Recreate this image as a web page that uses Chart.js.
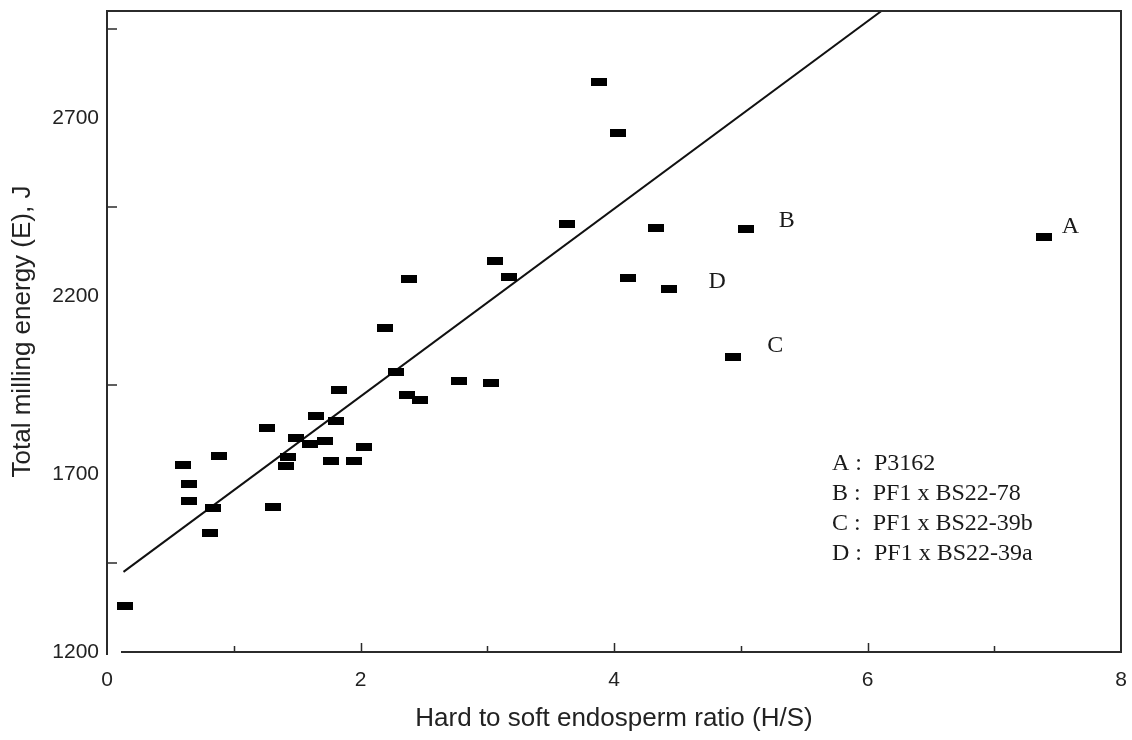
<!DOCTYPE html>
<html>
<head>
<meta charset="utf-8">
<script src="https://cdn.jsdelivr.net/npm/chart.js@4.4.1/dist/chart.umd.min.js"></script>
<style>
  html, body { margin: 0; padding: 0; background: #fff; }
  #wrap { width: 1132px; height: 740px; }
</style>
</head>
<body>
<div id="wrap"><canvas id="chart" width="1132" height="740"></canvas></div>
<script>
// values (H/S ratio vs total milling energy)
const hsRatio = [0.14, 0.60, 0.65, 0.65, 0.88, 0.84, 0.81, 1.26, 1.31, 1.43, 1.41, 1.49, 1.60, 1.65, 1.72, 1.77, 1.81, 1.83, 1.95, 2.03,
  2.19, 2.28, 2.37, 2.47, 2.38, 2.78, 3.03, 3.06, 3.17, 3.63, 3.88, 4.03, 4.11, 4.33, 4.43, 5.04, 4.94, 7.39];
const millingEnergy = [1329, 1725, 1672, 1624, 1751, 1604, 1534, 1829, 1607, 1748, 1722, 1801, 1784, 1863, 1793, 1737, 1849, 1936, 1737, 1776,
  2110, 1987, 1922, 1908, 2248, 1961, 1956, 2298, 2253, 2402, 2801, 2658, 2251, 2391, 2220, 2388, 2029, 2366];

// regression line end points
const fitX = [0.13, 6.11];
const fitY = [1425, 3000];

// named genotypes and the point each one marks
const pointNames = ['A', 'B', 'C', 'D'];
const pointIndex = [37, 35, 36, 34];
const noteLines = ['A :  P3162', 'B :  PF1 x BS22-78', 'C :  PF1 x BS22-39b', 'D :  PF1 x BS22-39a'];

const xTickValues = [0, 1, 2, 3, 4, 5, 6, 7, 8];
const xTickLabels = ['0', '', '2', '', '4', '', '6', '', '8'];
const yTickValues = [1200, 1450, 1700, 1950, 2200, 2450, 2700, 2950];
const yTickLabels = ['1200', '', '1700', '', '2200', '', '2700', ''];

const sans = "'Liberation Sans', Arial, sans-serif";
const serif = "'Liberation Serif', 'Times New Roman', serif";

// small filled bar used as the marker
const marker = document.createElement('canvas');
marker.width = 16;
marker.height = 8;
const mctx = marker.getContext('2d');
mctx.fillStyle = '#000';
mctx.fillRect(0, 0, 16, 8);

const labelOffsets = { A: [18, -4], B: [33, -2], C: [34, -5], D: [40, -1] };

function noScalePadding(s) {
  s.paddingTop = 0;
  s.paddingBottom = 0;
  s.paddingLeft = 0;
  s.paddingRight = 0;
}

const framePlugin = {
  id: 'frame',
  afterDatasetsDraw(chart) {
    const { ctx, chartArea: a, scales } = chart;
    const x = scales.x, y = scales.y;
    ctx.save();
    ctx.strokeStyle = '#2b2b2b';
    ctx.lineWidth = 2;
    ctx.beginPath();
    ctx.moveTo(a.left, a.bottom + 3);
    ctx.lineTo(a.left, a.top);
    ctx.lineTo(a.right, a.top);
    ctx.lineTo(a.right, a.bottom);
    ctx.lineTo(a.left + 14, a.bottom);
    ctx.stroke();

    // inward tick marks
    ctx.lineWidth = 1.5;
    ctx.beginPath();
    y.ticks.forEach((t, i) => {
      if (yTickLabels[i] !== '') return;
      const py = Math.round(y.getPixelForValue(t.value));
      ctx.moveTo(a.left, py);
      ctx.lineTo(a.left + 10, py);
    });
    x.ticks.forEach((t, i) => {
      if (t.value <= x.min || t.value >= x.max) return;
      const px = Math.round(x.getPixelForValue(t.value)) + 0.5;
      const len = xTickLabels[i] === '' ? 6 : 9;
      ctx.moveTo(px, a.bottom);
      ctx.lineTo(px, a.bottom - len);
    });
    ctx.stroke();

    // letters next to the named points
    ctx.fillStyle = '#1a1a1a';
    ctx.font = '24px ' + serif;
    ctx.textBaseline = 'alphabetic';
    ctx.textAlign = 'left';
    const meta = chart.getDatasetMeta(0);
    pointNames.forEach((name, k) => {
      const el = meta.data[pointIndex[k]];
      const off = labelOffsets[name];
      ctx.fillText(name, el.x + off[0], el.y + off[1]);
    });

    // key
    const nx = x.getPixelForValue(5.72);
    const ny = y.getPixelForValue(1712);
    noteLines.forEach((line, k) => {
      ctx.fillText(line, nx, ny + k * 30);
    });
    ctx.restore();
  }
};

new Chart(document.getElementById('chart'), {
  type: 'scatter',
  data: {
    datasets: [
      {
        label: 'Total milling energy',
        data: hsRatio.map((v, i) => ({ x: v, y: millingEnergy[i] })),
        pointStyle: marker,
        pointRadius: 8,
        pointHoverRadius: 8
      },
      {
        label: 'Fit',
        data: fitX.map((v, i) => ({ x: v, y: fitY[i] })),
        showLine: true,
        borderColor: '#111',
        borderWidth: 2,
        pointRadius: 0,
        fill: false
      }
    ]
  },
  options: {
    responsive: false,
    animation: false,
    layout: { autoPadding: false, padding: { top: 11, right: 11, left: 0, bottom: 0 } },
    plugins: {
      legend: { display: false },
      tooltip: { enabled: false }
    },
    scales: {
      x: {
        type: 'linear',
        min: 0,
        max: 8,
        afterFit(s) { s.height = 88; noScalePadding(s); },
        afterBuildTicks(s) { s.ticks = xTickValues.map(v => ({ value: v })); },
        grid: { display: false, drawTicks: false },
        border: { display: false },
        ticks: {
          autoSkip: false,
          maxRotation: 0,
          padding: 16,
          color: '#222',
          font: { family: sans, size: 21 },
          callback: (v, i) => xTickLabels[i]
        },
        title: {
          display: true,
          text: 'Hard to soft endosperm ratio (H/S)',
          color: '#222',
          font: { family: sans, size: 26 },
          padding: { top: 0, bottom: 6 }
        }
      },
      y: {
        type: 'linear',
        min: 1200,
        max: 3000,
        afterFit(s) { s.width = 107; noScalePadding(s); },
        afterBuildTicks(s) { s.ticks = yTickValues.map(v => ({ value: v })); },
        grid: { display: false, drawTicks: false },
        border: { display: false },
        ticks: {
          autoSkip: false,
          padding: 8,
          color: '#222',
          font: { family: sans, size: 21 },
          callback: (v, i) => yTickLabels[i]
        },
        title: {
          display: true,
          text: 'Total milling energy (E), J',
          color: '#222',
          font: { family: sans, size: 26 },
          padding: { top: 7, bottom: 0 }
        }
      }
    }
  },
  plugins: [framePlugin]
});
</script>
</body>
</html>
